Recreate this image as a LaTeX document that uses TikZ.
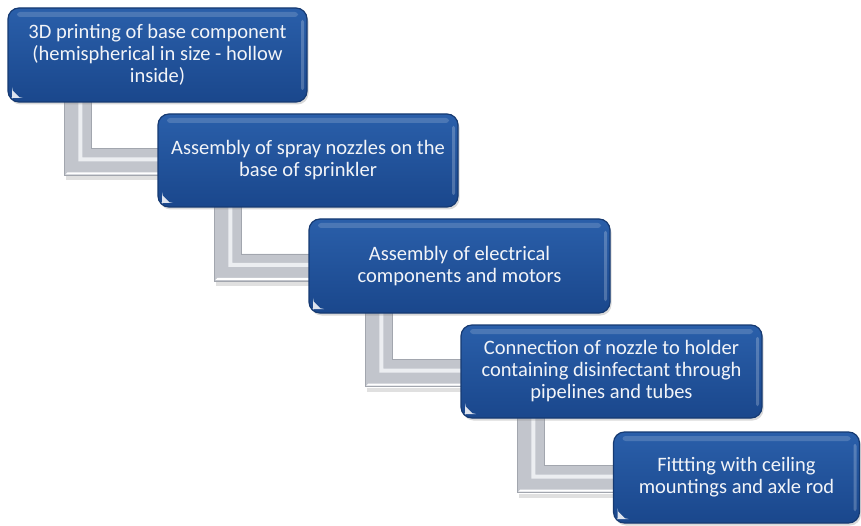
\documentclass[tikz,border=0pt]{standalone}
\usepackage{fontspec}
\setmainfont{Carlito}
\usetikzlibrary{calc,shadows,backgrounds}

\definecolor{boxtop}{HTML}{2A5FAA}
\definecolor{boxbot}{HTML}{1A478C}
\definecolor{boxedge}{HTML}{163A72}
\definecolor{boxtext}{HTML}{F2F4F8}
\definecolor{barfill}{HTML}{C2C5CC}
\definecolor{barlight}{HTML}{ECEEF1}
\definecolor{baredge}{HTML}{A2A6AE}

\tikzset{
  stepbox/.style={
    rounded corners=11pt, draw=boxedge, line width=1.2pt,
    top color=boxtop, bottom color=boxbot,
    text=boxtext, align=center, inner sep=0pt,
    font=\fontsize{20.5}{22}\selectfont,
    drop shadow={opacity=0.3, shadow xshift=1.5pt, shadow yshift=-2.5pt},
    path picture={
      % glossy strip along the top edge
      \fill[white, opacity=0.16, rounded corners=3pt]
        ($(path picture bounding box.north west)+(9,4)$) rectangle
        ($(path picture bounding box.north east)+(-9,9)$);
      % light strip along the right edge
      \fill[white, opacity=0.22, rounded corners=2pt]
        ($(path picture bounding box.north east)+(-6,12)$) rectangle
        ($(path picture bounding box.south east)+(-3,-12)$);
      % glint in the lower left corner
      \fill[white, opacity=0.85]
        ($(path picture bounding box.south west)+(4,-4)$) --
        ($(path picture bounding box.south west)+(4,-12)$) --
        ($(path picture bounding box.south west)+(12,-4)$) -- cycle;
    }},
  bar/.style={fill=barfill, draw=baredge, line width=0.6pt, line join=miter},
  barhi/.style={fill=barlight, draw=none},
}

\begin{document}
\begin{tikzpicture}[x=1pt, y=-1pt]
  \useasboundingbox (0,0) rectangle (861,526);

  \node[stepbox, minimum width=299pt, minimum height=94pt] (b1) at (157.5,55)
    {3D printing of base component\\(hemispherical in size - hollow\\inside)};
  \node[stepbox, minimum width=300pt, minimum height=93pt] (b2) at (308,160.5)
    {Assembly of spray nozzles on the\\base of sprinkler};
  \node[stepbox, minimum width=301pt, minimum height=94pt] (b3) at (459.5,266)
    {Assembly of electrical\\components and motors};
  \node[stepbox, minimum width=301pt, minimum height=93pt] (b4) at (611.5,371.5)
    {Connection of nozzle to holder\\containing disinfectant through\\pipelines and tubes};
  \node[stepbox, minimum width=246pt, minimum height=91pt] (b5) at (736.5,477.5)
    {Fittting with ceiling\\mountings and axle rod};

  % silver elbow connectors behind the boxes
  \begin{scope}[on background layer]
    \foreach \a/\b in {b1/b2, b2/b3, b3/b4, b4/b5} {
      \coordinate (\a-tl) at ($(\a.south west)+(57,-6)$);
      \coordinate (\a-tr) at ($(\a.south west)+(84,-6)$);
      \coordinate (\a-bl) at ($(\a-tl |- \b.west)+(0,15)$);
      \coordinate (\a-br) at ($(\a-tr |- \b.west)+(0,-12)$);
      \coordinate (\a-el) at ($(\b.west)+(8,15)$);
      \coordinate (\a-eu) at ($(\b.west)+(8,-12)$);
      % soft shadow under the elbow
      \fill[black, opacity=0.12]
        ($(\a-bl)+(2,1)$) -- ($(\a-el)+(0,1)$) -- ($(\a-el)+(0,5)$) -- ($(\a-bl)+(2,5)$) -- cycle;
      \draw[bar] (\a-tl) -- (\a-bl) -- (\a-el) -- (\a-eu) -- (\a-br) -- (\a-tr) -- cycle;
      % bevel highlight on the inner faces
      \fill[barhi]
        ($(\a-tr)+(-9,0)$) -- ($(\a-br)+(-9,9)$) -- ($(\a-eu)+(0,9)$) --
        ($(\a-eu)+(0,13)$) -- ($(\a-br)+(-13,13)$) -- ($(\a-tr)+(-13,0)$) -- cycle;
      \fill[white]
        ($(\a-bl)+(1,-1)$) -- ($(\a-el)+(0,-1)$) -- ($(\a-el)+(0,-3)$) -- ($(\a-bl)+(3,-3)$) -- cycle;
    }
  \end{scope}
\end{tikzpicture}
\end{document}
